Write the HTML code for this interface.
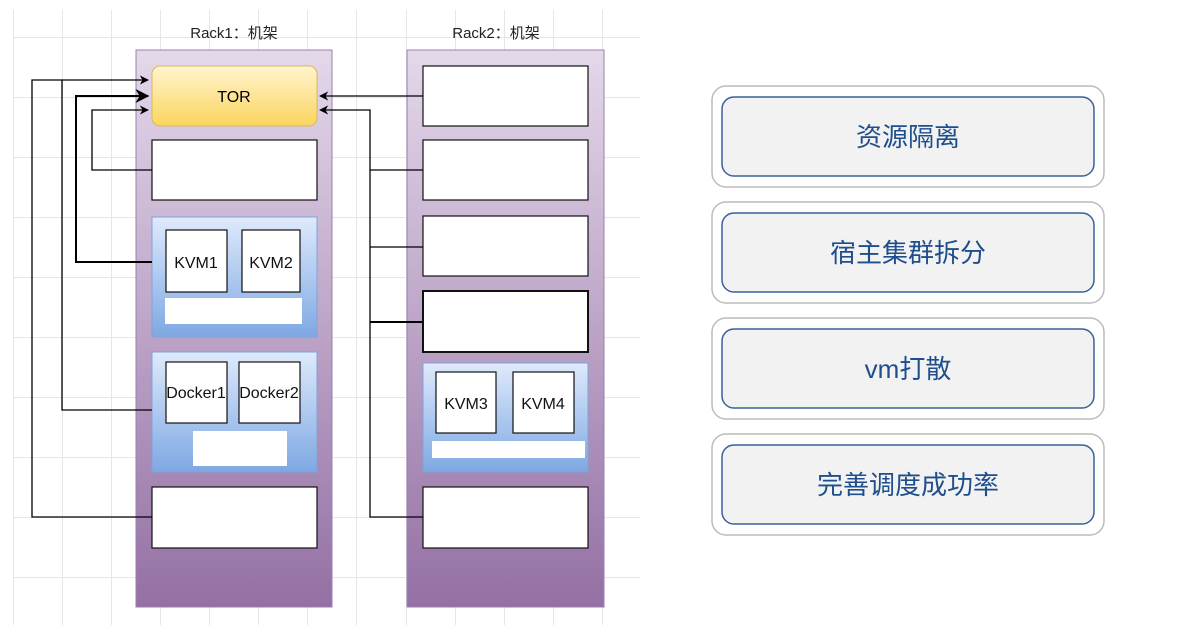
<!DOCTYPE html>
<html><head><meta charset="utf-8"><style>
body{margin:0;width:1202px;height:635px;background:#fff;overflow:hidden;font-family:"Liberation Sans","Noto Sans CJK SC",sans-serif}
</style></head><body>
<svg width="1202" height="635" xmlns="http://www.w3.org/2000/svg" style="position:absolute;left:0;top:0">
<defs>
<linearGradient id="rk" x1="0" y1="0" x2="0" y2="1"><stop offset="0" stop-color="#e4d8ea"/><stop offset="1" stop-color="#9470a4"/></linearGradient>
<linearGradient id="yl" x1="0" y1="0" x2="0" y2="1"><stop offset="0" stop-color="#fff4cf"/><stop offset="1" stop-color="#fbd55e"/></linearGradient>
<linearGradient id="bl" x1="0" y1="0" x2="0" y2="1"><stop offset="0" stop-color="#dfeafc"/><stop offset="1" stop-color="#7ea8e3"/></linearGradient>
<marker id="ar" viewBox="0 0 10 10" refX="9" refY="5" markerWidth="7" markerHeight="7" orient="auto-start-reverse"><path d="M0,0L10,5L0,10L3,5z" fill="#000"/></marker>
</defs>
<g stroke="#e6e6e6" stroke-width="1">
<path d="M13.5 10V625M62.5 10V625M111.5 10V625M160.5 10V625M209.5 10V625M258.5 10V625M307.5 10V625M356.5 10V625M406.5 10V625M455.5 10V625M504.5 10V625M553.5 10V625M602.5 10V625"/>
<path d="M13 37.5H640M13 97.5H640M13 157.5H640M13 217.5H640M13 277.5H640M13 337.5H640M13 397.5H640M13 457.5H640M13 517.5H640M13 577.5H640"/>
</g>
<rect x="136" y="50" width="196" height="557" fill="url(#rk)" stroke="#9a7fae"/>
<rect x="407" y="50" width="197" height="557" fill="url(#rk)" stroke="#9a7fae"/>
<text x="234" y="38" font-size="15" text-anchor="middle" fill="#222">Rack1：机架</text>
<text x="496" y="38" font-size="15" text-anchor="middle" fill="#222">Rack2：机架</text>
<rect x="152" y="66" width="165" height="60" rx="8" fill="url(#yl)" stroke="#d8b85a"/>
<text x="234" y="102" font-size="16" text-anchor="middle">TOR</text>
<g fill="#fff" stroke="#111" stroke-width="1.2">
<rect x="152" y="140" width="165" height="60"/>
<rect x="152" y="487" width="165" height="61"/>
</g>
<rect x="152" y="217" width="165" height="120" fill="url(#bl)" stroke="#7fa3d6"/>
<rect x="152" y="352" width="165" height="120" fill="url(#bl)" stroke="#7fa3d6"/>
<g fill="#fff" stroke="#111" stroke-width="1.2">
<rect x="166" y="230" width="61" height="62"/><rect x="242" y="230" width="58" height="62"/>
<rect x="166" y="362" width="61" height="61"/><rect x="239" y="362" width="61" height="61"/>
</g>
<rect x="165" y="298" width="137" height="26" fill="#fff"/>
<rect x="193" y="431" width="94" height="35" fill="#fff"/>
<g font-size="16" text-anchor="middle" fill="#111">
<text x="196" y="268">KVM1</text><text x="271" y="268">KVM2</text>
<text x="196" y="398">Docker1</text><text x="269" y="398">Docker2</text>
</g>
<g fill="#fff" stroke="#111" stroke-width="1.2">
<rect x="423" y="66" width="165" height="60"/>
<rect x="423" y="140" width="165" height="60"/>
<rect x="423" y="216" width="165" height="60"/>
<rect x="423" y="291" width="165" height="61" stroke-width="2"/>
<rect x="423" y="487" width="165" height="61"/>
</g>
<rect x="423" y="363" width="165" height="109" fill="url(#bl)" stroke="#7fa3d6"/>
<g fill="#fff" stroke="#111" stroke-width="1.2">
<rect x="436" y="372" width="60" height="61"/><rect x="513" y="372" width="61" height="61"/>
</g>
<rect x="432" y="441" width="153" height="17" fill="#fff"/>
<g font-size="16" text-anchor="middle" fill="#111"><text x="466" y="409">KVM3</text><text x="543" y="409">KVM4</text></g>
<g fill="none" stroke="#000" stroke-width="1.3">
<path d="M152 517H32V80H148" marker-end="url(#ar)"/>
<path d="M152 410H62V80"/>
<path d="M152 262H76V96H148" stroke-width="2" marker-end="url(#ar)"/>
<path d="M152 170H92V110H148" marker-end="url(#ar)"/>
<path d="M423 96H320" marker-end="url(#ar)"/>
<path d="M423 517H370V110H320" marker-end="url(#ar)"/>
<path d="M370 170H423M370 247H423"/>
<path d="M370 322H423" stroke-width="2"/>
</g>
<g font-size="26" text-anchor="middle" fill="#1f4e8c">
<rect x="712" y="86" width="392" height="101" rx="14" fill="#fff" stroke="#bbb" stroke-width="1.5"/>
<rect x="722" y="97" width="372" height="79" rx="12" fill="#f2f2f2" stroke="#3b609c" stroke-width="1.5"/>
<text x="908" y="146">资源隔离</text>
<rect x="712" y="202" width="392" height="101" rx="14" fill="#fff" stroke="#bbb" stroke-width="1.5"/>
<rect x="722" y="213" width="372" height="79" rx="12" fill="#f2f2f2" stroke="#3b609c" stroke-width="1.5"/>
<text x="908" y="262">宿主集群拆分</text>
<rect x="712" y="318" width="392" height="101" rx="14" fill="#fff" stroke="#bbb" stroke-width="1.5"/>
<rect x="722" y="329" width="372" height="79" rx="12" fill="#f2f2f2" stroke="#3b609c" stroke-width="1.5"/>
<text x="908" y="378">vm打散</text>
<rect x="712" y="434" width="392" height="101" rx="14" fill="#fff" stroke="#bbb" stroke-width="1.5"/>
<rect x="722" y="445" width="372" height="79" rx="12" fill="#f2f2f2" stroke="#3b609c" stroke-width="1.5"/>
<text x="908" y="494">完善调度成功率</text>
</g>
</svg>
</body></html>
